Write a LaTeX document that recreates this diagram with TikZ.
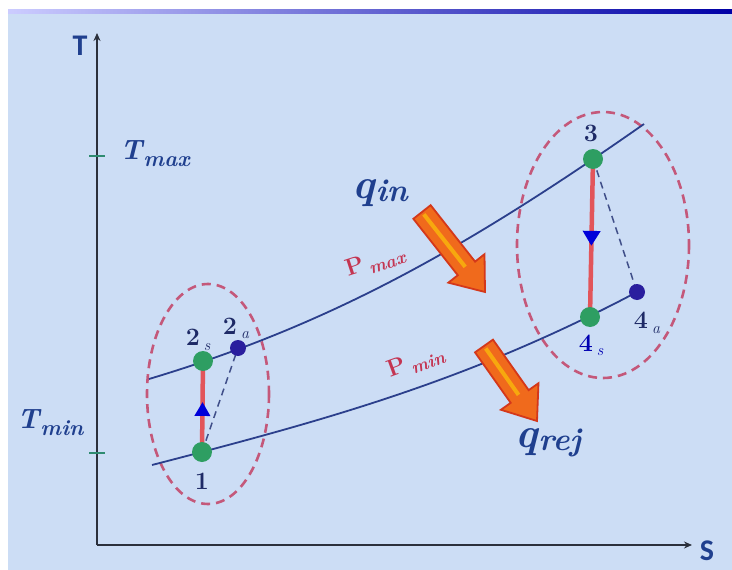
\documentclass[tikz,border=0pt]{standalone}
\usepackage{fontspec}
\usetikzlibrary{arrows.meta,calc,decorations.markings}
\newfontfamily\carl{Carlito}
\definecolor{bgc}{HTML}{CCDDF5}
\definecolor{axc}{HTML}{2B303C}
\definecolor{curvec}{HTML}{2B3F8C}
\definecolor{greenc}{HTML}{2E9E62}
\definecolor{navyc}{HTML}{2A1E9E}
\definecolor{redl}{HTML}{E2555A}
\definecolor{ellc}{HTML}{C4587A}
\definecolor{txtb}{HTML}{1F3F8E}
\definecolor{numc}{HTML}{1E2A66}
\definecolor{plab}{HTML}{C43552}
\definecolor{arrfillc}{HTML}{F06A1C}
\definecolor{arrdrawc}{HTML}{D4381A}
\definecolor{tickc}{HTML}{2E8B70}
\newcommand\bigarr[3]{%
  \coordinate (#3h) at ($(#2)!30pt!(#1)$);
  \filldraw[fill=arrfillc,draw=arrdrawc,line width=1.8pt,line join=miter]
    ($(#1)!11pt!90:(#2)$) -- ($(#3h)!11pt!90:(#2)$) -- ($(#3h)!23pt!90:(#2)$)
    -- (#2) -- ($(#3h)!23pt!-90:(#2)$) -- ($(#3h)!11pt!-90:(#2)$)
    -- ($(#1)!11pt!-90:(#2)$) -- cycle;
  \draw[yellow!70!orange,line width=4pt,opacity=0.6] ($(#1)!3pt!(#2)$) -- ($(#3h)!2pt!(#1)$);
}
\newcommand\psub[1]{\raisebox{-5pt}{\fontsize{18}{18}\selectfont\itshape #1}}
\newcommand\qsub[2]{{\bfseries\itshape #1}\kern1pt\raisebox{-3pt}{\fontsize{32}{32}\selectfont\bfseries\itshape #2}}
\newcommand\tsub[2]{{\bfseries\itshape #1}\kern1pt\raisebox{-7pt}{\fontsize{22}{22}\selectfont\bfseries\itshape #2}}
\begin{document}
\begin{tikzpicture}[x=1pt,y=-1pt,
  axis/.style={draw=axc,line width=2.6pt,-{Stealth[length=8pt,width=7pt]}},
  curve/.style={draw=curvec,line width=1.8pt},
  gdot/.style={circle,fill=greenc,inner sep=0pt,minimum width=20pt,minimum height=17pt},
  ndot/.style={circle,fill=navyc,inner sep=0pt,minimum size=16pt},
  redline/.style={draw=redl,line width=4.5pt},
  ell/.style={draw=ellc,line width=2.6pt,dash pattern=on 9pt off 6pt},
  dline/.style={draw=curvec!75!gray,line width=1.5pt,dash pattern=on 7pt off 5pt},
  num/.style={text=numc,font=\fontsize{25}{25}\selectfont\bfseries},
  sub/.style={font=\fontsize{16}{16}\selectfont\itshape},
  axlab/.style={text=txtb,font=\carl\fontsize{30}{30}\selectfont\bfseries},
  qlab/.style={text=txtb,font=\fontsize{42}{42}\selectfont,inner sep=0pt},
  plabel/.style={text=plab,font=\fontsize{24}{24}\selectfont\bfseries},
  tlab/.style={text=txtb,font=\fontsize{28}{28}\selectfont,inner sep=0pt}]
\useasboundingbox (0,0) rectangle (732,570);
% background
\fill[bgc] (0,0) rectangle (732,570);
\fill[white] (0,0) rectangle (732,9);
\fill[white] (0,0) rectangle (8,570);
\shade[left color=blue!20!white,right color=blue!65!black] (8,9) rectangle (732,13);
% axes
\coordinate (O) at (97,545);
\coordinate (Ttop) at (97,33);
\coordinate (Send) at (692,545);
\draw[axis] (O) -- (Ttop);
\draw[axis] (O) -- (Send);
\node[axlab] (tlabel) at (80,46) {T};
\node[axlab] (slabel) at (707,551) {S};
% ticks
\draw[tickc,line width=2pt] (89,156) -- (105,156);
\draw[tickc,line width=2pt] (89,453) -- (105,453);
\node[tlab,anchor=west] (tmax) at (120,154) {\tsub{T}{max}};
\node[tlab,anchor=west] (tmin) at (17,423) {\tsub{T}{min}};
% ellipses
\draw[ell] (208,394) ellipse [x radius=61, y radius=110];
\draw[ell] (603,245) ellipse [x radius=86, y radius=133];
% curves
\draw[curve] (149,379) .. controls (329,325) and (464,250) .. (644,124);
\draw[curve] (152,465) .. controls (322,421) and (467,382) .. (637,292);
% state points
\coordinate (c1) at (202,452);
\coordinate (c2s) at (203,361);
\coordinate (c2a) at (238,348);
\coordinate (c3) at (593,159);
\coordinate (c4s) at (590,317);
\coordinate (c4a) at (637,292);
\draw[dline] (c1) -- (c2a);
\draw[dline] (c3) -- (c4a);
\draw[redline,postaction={decorate},decoration={markings,mark=at position 0.55 with {\arrow{Triangle[width=15pt,length=14pt,color=blue!85!black]}}}] (c1) -- (c2s);
\draw[redline,postaction={decorate},decoration={markings,mark=at position 0.55 with {\arrow{Triangle[width=17pt,length=15pt,color=blue!85!black]}}}] (c3) -- (c4s);
\node[gdot] (p1) at (c1) {};
\node[gdot] (p2s) at (c2s) {};
\node[ndot] (p2a) at (c2a) {};
\node[gdot] (p3) at (c3) {};
\node[gdot] (p4s) at (c4s) {};
\node[ndot] (p4a) at (c4a) {};
% labels
\node[num] (l1) at (202,481) {1};
\node[num] (l2s) at (193,337) {2};
\node[sub,text=numc] (l2ss) at (207,347) {s};
\node[num] (l2a) at (230,326) {2};
\node[sub,text=numc] (l2as) at (245,335) {a};
\node[num] (l3) at (591,133) {3};
\node[num,text=blue!70!black] (l4s) at (586,343) {4};
\node[sub,text=blue!70!black] (l4ss) at (600,352) {s};
\node[num] (l4a) at (641,320) {4};
\node[sub,text=numc] (l4as) at (656,330) {a};
% pressure labels
\node[plabel,rotate=18] (pmax) at (375,262) {P\,\psub{max}};
\node[plabel,rotate=20] (pmin) at (416,362) {P\,\psub{min}};
% heat labels
\node[qlab] (qin) at (380,193) {\qsub{q}{in}};
\node[qlab] (qrej) at (548,443) {\qsub{q}{rej}};
% big arrows
\coordinate (a1s) at (422,212);
\coordinate (a1e) at (485,292);
\coordinate (a2s) at (484,346);
\coordinate (a2e) at (537,421);
\bigarr{a1s}{a1e}{ha}
\bigarr{a2s}{a2e}{hb}
\end{tikzpicture}
\end{document}
